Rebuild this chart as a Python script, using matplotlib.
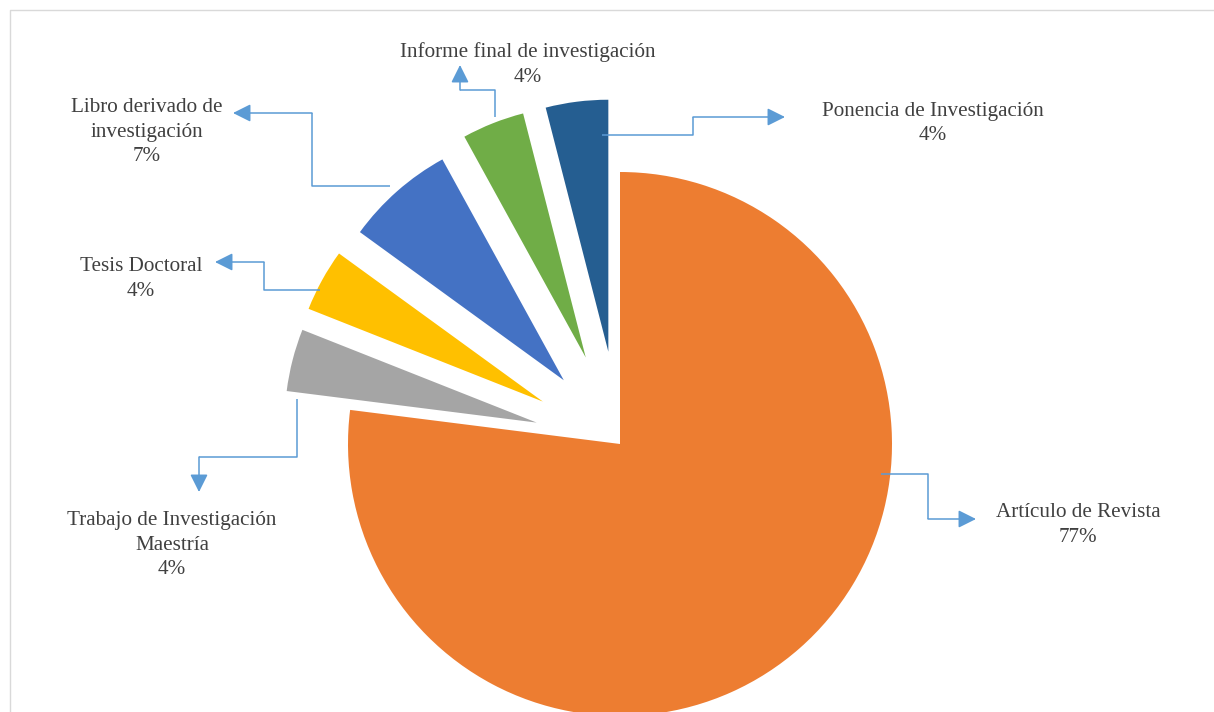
import matplotlib.pyplot as plt

categories = ['Artículo de Revista', 'Trabajo de Investigación\nMaestría', 'Tesis Doctoral',
              'Libro derivado de\ninvestigación', 'Informe final de investigación',
              'Ponencia de Investigación']
percent = [77, 4, 4, 7, 4, 4]
colors = ['#ED7D31', '#A5A5A5', '#FFC000', '#4472C4', '#70AD47', '#255E91']

# layout in pixels (y from the top of the image)
W, H = 1214, 712
cx, cy = 620, 444
R = 272
r_small = 252
explode = [0, 86, 88, 85, 93, 93]

# (centre x, first baseline y)
label_pos = [(1078, 517), (172, 525), (141, 271), (147, 112), (528, 57), (933, 116)]
line_step = 24.5
leaders = [
    [(881, 474), (928, 474), (928, 519), (976, 519)],
    [(297, 399), (297, 457), (199, 457), (199, 492)],
    [(320, 290), (264, 290), (264, 262), (215, 262)],
    [(390, 186), (312, 186), (312, 113), (233, 113)],
    [(495, 117), (495, 90), (460, 90), (460, 65)],
    [(602, 135), (693, 135), (693, 117), (785, 117)],
]

fig = plt.figure(figsize=(W / 100, H / 100), dpi=100)
ax = fig.add_axes([0, 0, 1, 1])

wedges, _ = ax.pie(percent, colors=colors, startangle=90, counterclock=False,
                   center=(cx, H - cy), radius=R, explode=explode,
                   wedgeprops=dict(linewidth=0), frame=True)
for w in wedges[1:]:
    w.set_radius(r_small)
ax.set_xlim(0, W)
ax.set_ylim(0, H)
ax.set_aspect('equal')
ax.axis('off')

line_c = '#5B9BD5'
for pts in leaders:
    xs = [p[0] for p in pts[:-1]]
    ys = [H - p[1] for p in pts[:-1]]
    ax.plot(xs, ys, color=line_c, lw=1.1, solid_capstyle='butt')
    ax.annotate('', xy=(pts[-1][0], H - pts[-1][1]), xytext=(pts[-2][0], H - pts[-2][1]),
                arrowprops=dict(arrowstyle='-|>', color=line_c, lw=1.1,
                                mutation_scale=27, shrinkA=0, shrinkB=0))

for name, p, (lx, ly) in zip(categories, percent, label_pos):
    lines = name.split('\n') + [f'{p}%']
    for i, s in enumerate(lines):
        ax.text(lx, H - ly - i * line_step, s, ha='center', va='baseline', fontsize=15.2,
                family='Liberation Serif', color='#404040')

# chart area border
ax.plot([10, 10, W + 5], [-5, H - 10, H - 10], color='#D9D9D9', lw=1.0, clip_on=False)

fig.savefig('out.png', dpi=100)
